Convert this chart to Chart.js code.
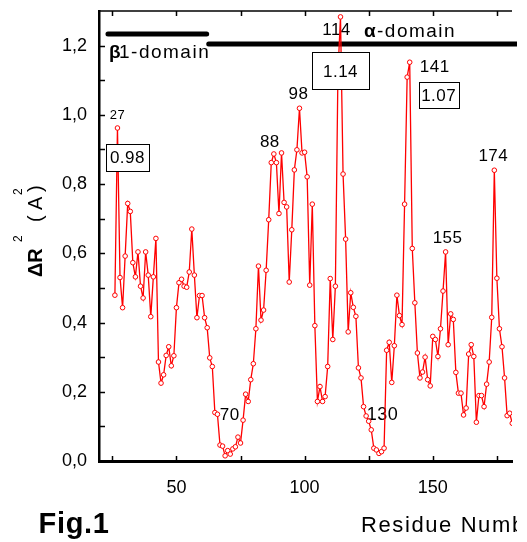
<!DOCTYPE html>
<html>
<head>
<meta charset="utf-8">
<script src="https://cdn.jsdelivr.net/npm/chart.js@4.4.1/dist/chart.umd.min.js"></script>
<style>
  html, body { margin: 0; padding: 0; background: #fff; }
  #wrap { width: 517px; height: 542px; }
</style>
</head>
<body>
<div id="wrap"><canvas id="c" width="517" height="542"></canvas></div>
<script>
// ΔR² per residue (residue 26 .. 181)
const firstResidue = 26;
const dR2 = [
  0.479, 0.962, 0.530, 0.443, 0.592, 0.744, 0.721, 0.573, 0.532, 0.604,  // 26-35
  0.505, 0.471, 0.604, 0.537, 0.417, 0.532, 0.643, 0.286, 0.225, 0.249,  // 36-45
  0.305, 0.330, 0.275, 0.304, 0.443, 0.515, 0.525, 0.505, 0.502, 0.546,  // 46-55
  0.670, 0.537, 0.414, 0.478, 0.478, 0.414, 0.385, 0.298, 0.273, 0.140,  // 56-65
  0.135, 0.046, 0.043, 0.015, 0.030, 0.020, 0.035, 0.041, 0.069, 0.052,  // 66-75
  0.118, 0.193, 0.172, 0.235, 0.281, 0.382, 0.563, 0.407, 0.436, 0.551,  // 76-85
  0.697, 0.862, 0.887, 0.862, 0.715, 0.890, 0.747, 0.734, 0.517, 0.668,  // 86-95
  0.841, 0.899, 1.019, 0.890, 0.892, 0.821, 0.508, 0.742, 0.391, 0.172,  // 96-105
  0.215, 0.172, 0.186, 0.273, 0.527, 0.351, 0.505, 1.120, 1.283, 0.829,  // 106-115
  0.641, 0.373, 0.486, 0.444, 0.418, 0.269, 0.240, 0.157, 0.130, 0.115,  // 116-125
  0.090, 0.037, 0.032, 0.022, 0.027, 0.037, 0.320, 0.343, 0.227, 0.333,  // 126-135
  0.479, 0.420, 0.394, 0.742, 1.109, 1.152, 0.614, 0.457, 0.312, 0.240,  // 136-145
  0.257, 0.300, 0.235, 0.217, 0.360, 0.351, 0.302, 0.382, 0.491, 0.604,  // 146-155
  0.336, 0.425, 0.409, 0.256, 0.196, 0.196, 0.133, 0.153, 0.309, 0.336,  // 156-165
  0.302, 0.112, 0.189, 0.189, 0.157, 0.222, 0.286, 0.415, 0.840, 0.528,  // 166-175
  0.382, 0.330, 0.240, 0.131, 0.138, 0.109                               // 176-181
];
const residues = dR2.map((_, i) => firstResidue + i);

const xTickLabels = [50, 100, 150];
const yTickLabels = [0, 0.2, 0.4, 0.6, 0.8, 1.0, 1.2];

// labelled peaks and value boxes
const peakNotes = [[27, '27'], [88, '88'], [98, '98'], [114, '114'], [141, '141'],
                   [155, '155'], [174, '174'], [70, '70'], [130, '130']];
const valueBoxes = [[27, '0.98'], [114, '1.14'], [141, '1.07']];

// secondary structure domains (residue ranges)
const domains = [
  { greek: 'β', rest: '1-domain', from: 23.3, to: 61.8 },
  { greek: 'α', rest: '-domain', from: 62.6, to: 185 }
];

const FONT = '"Liberation Sans", Arial, sans-serif';

function valueAt(res) { return dR2[res - firstResidue]; }

function spaced(ctx, px) { if ('letterSpacing' in ctx) ctx.letterSpacing = px + 'px'; }

const decor = {
  id: 'decor',
  beforeDatasetsDraw(chart) {
    const { ctx, chartArea: a, scales: { x, y } } = chart;
    ctx.save();
    ctx.strokeStyle = '#000';
    ctx.fillStyle = '#000';

    // top frame
    ctx.lineWidth = 1.5;
    ctx.beginPath();
    ctx.moveTo(a.left, a.top);
    ctx.lineTo(a.right, a.top);
    ctx.stroke();

    // inward ticks
    ctx.lineWidth = 1.5;
    for (let v = 25; v <= 175; v += 25) {
      const px = Math.round(x.getPixelForValue(v)) + 0.5;
      ctx.beginPath();
      ctx.moveTo(px, a.bottom); ctx.lineTo(px, a.bottom - 5);
      ctx.moveTo(px, a.top); ctx.lineTo(px, a.top + 5);
      ctx.stroke();
    }
    for (let i = 1; i <= 12; i++) {
      const py = Math.round(y.getPixelForValue(i / 10)) + 0.5;
      ctx.beginPath();
      ctx.moveTo(a.left, py); ctx.lineTo(a.left + 6, py);
      ctx.stroke();
    }

    // domain bars
    ctx.lineWidth = 5;
    ctx.lineCap = 'round';
    const barY = [34, 44];
    domains.forEach((d, i) => {
      ctx.beginPath();
      ctx.moveTo(x.getPixelForValue(d.from), barY[i]);
      ctx.lineTo(x.getPixelForValue(d.to), barY[i]);
      ctx.stroke();
    });
    ctx.lineCap = 'butt';

    // domain names
    ctx.textBaseline = 'alphabetic';
    ctx.textAlign = 'left';
    const namePos = [[109, 57.5, 119], [364, 37, 377]];
    domains.forEach((d, i) => {
      const [gx, by, rx] = namePos[i];
      spaced(ctx, 0);
      ctx.font = 'bold 19px ' + FONT;
      ctx.fillText(d.greek, gx, by);
      spaced(ctx, 1.5);
      ctx.font = '19px ' + FONT;
      ctx.fillText(d.rest, rx, by);
    });
    spaced(ctx, 0);

    // peak numbers, offsets from the data point
    const off = { 27: [0, -13, 13], 88: [-4, -12, 17], 98: [-1, -14, 17], 114: [-4, 13, 17],
                  141: [25, 5, 17], 155: [2, -14, 17], 174: [-1, -14, 17],
                  70: [2, -35, 17], 130: [1, -37, 18] };
    ctx.textAlign = 'center';
    ctx.textBaseline = 'middle';
    peakNotes.forEach(([res, txt]) => {
      const o = off[res];
      const px = x.getPixelForValue(res) + o[0];
      const py = y.getPixelForValue(valueAt(res)) + o[1];
      ctx.font = o[2] + 'px ' + FONT;
      spaced(ctx, 0.5);
      ctx.fillText(txt, px, py);
    });
    spaced(ctx, 0);
    ctx.restore();
  },
  afterDatasetsDraw(chart) {
    const { ctx, scales: { x, y } } = chart;
    ctx.save();
    const box = { 27: [10, 29, 43, 27], 114: [0, 54, 57, 37], 141: [29, 33, 40, 26] };
    valueBoxes.forEach(([res, txt]) => {
      const [dx, dy, w, h] = box[res];
      const cx = x.getPixelForValue(res) + dx;
      const cy = y.getPixelForValue(valueAt(res)) + dy;
      const l = Math.round(cx - w / 2) + 0.5, t = Math.round(cy - h / 2) + 0.5;
      ctx.fillStyle = '#fff';
      ctx.fillRect(l, t, w, h);
      ctx.strokeStyle = '#000';
      ctx.lineWidth = 1;
      ctx.strokeRect(l, t, w, h);
      ctx.fillStyle = '#000';
      ctx.font = '17px ' + FONT;
      ctx.textAlign = 'center';
      ctx.textBaseline = 'middle';
      spaced(ctx, 0.5);
      ctx.fillText(txt, cx, cy + 1);
    });
    ctx.restore();
  },
  afterDraw(chart) {
    const { ctx } = chart;
    ctx.save();
    ctx.fillStyle = '#000';
    ctx.textBaseline = 'alphabetic';
    ctx.textAlign = 'left';

    // y axis title: ΔR² (A²), rotated
    ctx.translate(42, 277);
    ctx.rotate(-Math.PI / 2);
    ctx.font = 'bold 20px ' + FONT;
    ctx.fillText('ΔR', 0, 0);
    ctx.font = '12px ' + FONT;
    ctx.fillText('2', 35, -20);
    ctx.font = '20px ' + FONT;
    ctx.fillText('(', 55, 0);
    ctx.fillText('A', 67, 0);
    ctx.font = '12px ' + FONT;
    ctx.fillText('2', 82, -20);
    ctx.font = '20px ' + FONT;
    ctx.fillText(')', 85, 0);
    ctx.setTransform(1, 0, 0, 1, 0, 0);

    ctx.font = 'bold 29px ' + FONT;
    spaced(ctx, 0.7);
    ctx.fillText('Fig.1', 38.5, 533);

    ctx.font = '22px ' + FONT;
    spaced(ctx, 1.6);
    ctx.fillText('Residue Number', 361, 532);
    ctx.restore();
  }
};

new Chart(document.getElementById('c'), {
  type: 'line',
  data: {
    datasets: [{
      data: residues.map((r, i) => ({ x: r, y: dR2[i] })),
      borderColor: '#ff0000',
      borderWidth: 1.3,
      pointRadius: 2.3,
      pointBorderWidth: 1,
      pointBorderColor: '#ff0000',
      pointBackgroundColor: '#ffffff',
      tension: 0
    }]
  },
  options: {
    responsive: false,
    animation: false,
    devicePixelRatio: 1,
    layout: { padding: { top: 11, left: 0, right: 0, bottom: 0 } },
    plugins: { legend: { display: false }, tooltip: { enabled: false } },
    scales: {
      x: {
        type: 'linear',
        min: 19.8,
        max: 180.9,
        grid: { display: false, drawTicks: false },
        border: { display: true, color: '#000', width: 3 },
        afterBuildTicks: s => { s.ticks = xTickLabels.map(v => ({ value: v })); },
        ticks: { color: '#000', font: { family: FONT, size: 18 }, padding: 16, maxRotation: 0, autoSkip: false },
        afterFit: s => { s.height = 81; s.paddingLeft = 0; s.paddingRight = 0; }
      },
      y: {
        min: 0,
        max: 1.3,
        grid: { display: false, drawTicks: false },
        border: { display: true, color: '#000', width: 2.5 },
        afterBuildTicks: s => { s.ticks = yTickLabels.map(v => ({ value: v })); },
        ticks: {
          color: '#000', font: { family: FONT, size: 18 }, padding: 12, autoSkip: false,
          callback: v => v.toFixed(1).replace('.', ',')
        },
        afterFit: s => { s.width = 99; s.paddingTop = 0; s.paddingBottom = 0; }
      }
    }
  },
  plugins: [decor]
});
</script>
</body>
</html>
